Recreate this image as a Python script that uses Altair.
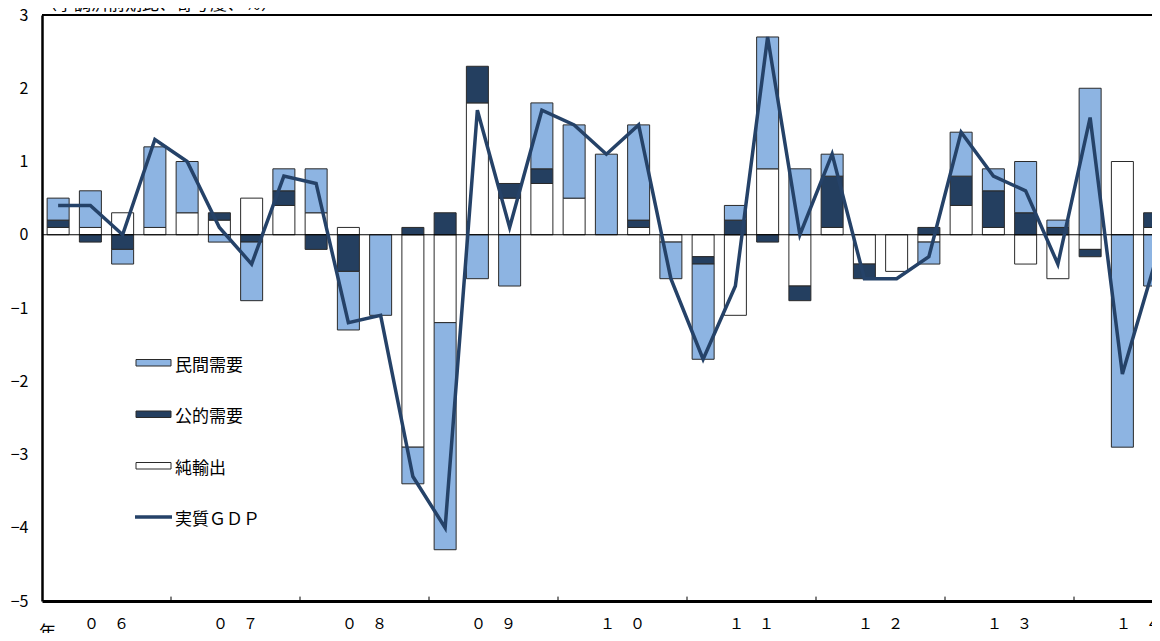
import altair as alt
import pandas as pd

# ---- data ----
quarters = list(range(35))  # 2006Q1 .. 2014Q3
net_exports = [0.1, 0.1, 0.3, 0.1, 0.3, 0.2, 0.5, 0.4, 0.3, 0.1, 0.0, -2.9, -1.2, 1.8, 0.5, 0.7, 0.5, 0.0,
               0.1, -0.1, -0.3, -1.1, 0.9, -0.7, 0.1, -0.4, -0.5, -0.1, 0.4, 0.1, -0.4, -0.6, -0.2, 1.0, 0.1]
public_demand = [0.1, -0.1, -0.2, 0.0, 0.0, 0.1, -0.1, 0.2, -0.2, -0.5, 0.0, 0.1, 0.3, 0.5, 0.2, 0.2, 0.0, 0.0,
                 0.1, 0.0, -0.1, 0.2, -0.1, -0.2, 0.7, -0.2, 0.0, 0.1, 0.4, 0.5, 0.3, 0.1, -0.1, 0.0, 0.2]
private_demand = [0.3, 0.5, -0.2, 1.1, 0.7, -0.1, -0.8, 0.3, 0.6, -0.8, -1.1, -0.5, -3.1, -0.6, -0.7, 0.9, 1.0, 1.1,
                  1.3, -0.5, -1.3, 0.2, 1.8, 0.9, 0.3, 0.0, 0.0, -0.3, 0.6, 0.3, 0.7, 0.1, 2.0, -2.9, -0.7]
real_gdp = [0.4, 0.4, 0.0, 1.3, 1.0, 0.1, -0.4, 0.8, 0.7, -1.2, -1.1, -3.3, -4.0, 1.7, 0.1, 1.7, 1.5, 1.1,
            1.5, -0.6, -1.7, -0.7, 2.7, 0.0, 1.1, -0.6, -0.6, -0.3, 1.4, 0.8, 0.6, -0.4, 1.6, -1.9, -0.4]
series_names = ["純輸出", "公的需要", "民間需要"]
series_colors = ["#FFFFFF", "#243F60", "#8DB4E2"]
year_labels = ["０　６", "０　７", "０　８", "０　９", "１　０", "１　１", "１　２", "１　３", "１　４"]
y_ticks = [-5, -4, -3, -2, -1, 0, 1, 2, 3]
legend_labels = ["民間需要", "公的需要", "純輸出", "実質ＧＤＰ"]
title_text = "（季調済前期比、寄与度、％）"
year_unit = "年"

FONT = "Noto Sans CJK JP"
LINE_COLOR = "#254268"
PLOT_W = 1110
QUARTER_PX = 32.25

rows = []
for q in quarters:
    for order, (name, vals) in enumerate(zip(series_names, [net_exports, public_demand, private_demand])):
        v = vals[q]
        if v != 0:
            rows.append({"xc": q + 0.5, "series": name, "value": v, "ord": order})
bars_df = pd.DataFrame(rows)
gdp_df = pd.DataFrame({"xc": [q + 0.5 for q in quarters], "gdp": real_gdp})
years_df = pd.DataFrame({"label": year_labels, "xm": [4 * k + 2 for k in range(len(year_labels))]})
bounds_df = pd.DataFrame({"xb": [4 * k for k in range(1, len(year_labels))]})
one = pd.DataFrame({"z": [0]})

xscale = alt.Scale(domain=[0, PLOT_W / QUARTER_PX], nice=False, zero=False, padding=0)
yscale = alt.Scale(domain=[-5, 3], nice=False, zero=False, padding=0)

x_enc = alt.X("xc:Q", scale=xscale,
              axis=alt.Axis(labels=False, ticks=False, grid=False, title=None,
                            domainColor="black", domainWidth=3))

bars = alt.Chart(bars_df).mark_bar(size=22, clip=True, stroke="#2a2a2a", strokeWidth=1).encode(
    x=x_enc,
    y=alt.Y("value:Q", stack="zero", scale=yscale,
            axis=alt.Axis(values=y_ticks, ticks=False, tickSize=0, labelPadding=14, grid=False, title=None,
                          labelFont=FONT, labelFontSize=16, labelColor="black",
                          domainColor="black", domainWidth=2.5, format="d")),
    color=alt.Color("series:N", scale=alt.Scale(domain=series_names, range=series_colors), legend=None),
    order=alt.Order("ord:Q", sort="ascending"),
)

zero_rule = alt.Chart(one).mark_rule(color="black", strokeWidth=1).encode(y=alt.datum(0, scale=yscale))
top_rule = alt.Chart(one).mark_rule(color="black", strokeWidth=2).encode(y=alt.datum(3, scale=yscale))

ticks = alt.Chart(bounds_df).mark_rule(color="black", strokeWidth=1).encode(
    x=alt.X("xb:Q", scale=xscale),
    y=alt.datum(-5, scale=yscale),
    y2=alt.datum(-4.94),
)

line = alt.Chart(gdp_df).mark_line(color=LINE_COLOR, strokeWidth=3.5).encode(
    x=alt.X("xc:Q", scale=xscale),
    y=alt.Y("gdp:Q", scale=yscale),
)

year_text = alt.Chart(years_df).mark_text(font=FONT, fontSize=15, baseline="middle", align="center",
                                          color="black").encode(
    x=alt.X("xm:Q", scale=xscale),
    y=alt.value(609),
    text="label:N",
)

nen = alt.Chart(one).mark_text(font=FONT, fontSize=17, baseline="top", align="left", color="black").encode(
    x=alt.value(-3), y=alt.value(610), text=alt.value(year_unit))

title = alt.Chart(one).mark_text(font=FONT, fontSize=17, baseline="alphabetic", align="left",
                                 color="black").encode(
    x=alt.value(-2), y=alt.value(-5), text=alt.value(title_text))

legend_layers = []
for k, lab in enumerate(legend_labels):
    yc = 347.5 + 51.5 * k
    if k < 3:
        fill = series_colors[[2, 1, 0][k]]
        legend_layers.append(
            alt.Chart(one).mark_rect(fill=fill, stroke="#2a2a2a", strokeWidth=1).encode(
                x=alt.value(94), x2=alt.value(129), y=alt.value(yc - 3), y2=alt.value(yc + 3.5)))
    else:
        legend_layers.append(
            alt.Chart(one).mark_rule(color=LINE_COLOR, strokeWidth=3.5).encode(
                x=alt.value(93), x2=alt.value(130), y=alt.value(yc), y2=alt.value(yc)))
    legend_layers.append(
        alt.Chart(one).mark_text(font=FONT, fontSize=17, baseline="middle", align="left", color="black").encode(
            x=alt.value(133), y=alt.value(yc + 3), text=alt.value(lab)))

chart = alt.layer(bars, zero_rule, top_rule, ticks, line, year_text, nen, title, *legend_layers).properties(
    width=PLOT_W, height=586,
    padding={"left": 34, "top": 7, "right": 0, "bottom": 32},
    autosize=alt.AutoSizeParams(type="none"),
).configure_view(stroke=None).configure_axis(grid=False)

chart.save("out.html", embed_options={"renderer": "svg", "actions": False})
